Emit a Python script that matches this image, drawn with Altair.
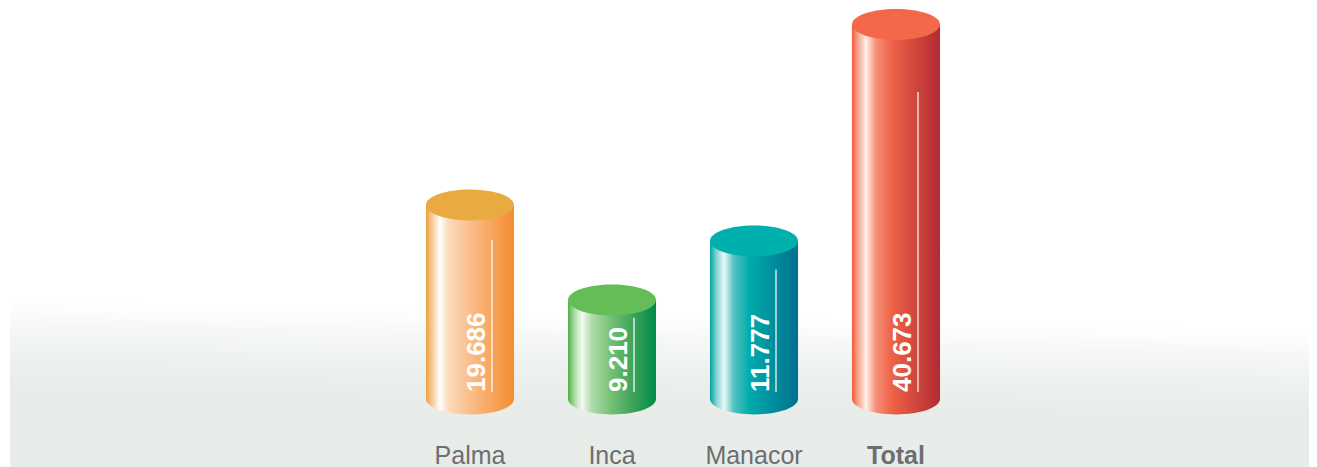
import altair as alt
import pandas as pd

# ---- data ----
categories = ["Palma", "Inca", "Manacor", "Total"]
values = [19686, 9210, 11777, 40673]
value_labels = ["19.686", "9.210", "11.777", "40.673"]
# height of each cylinder as drawn in the picture (same units as the values)
drawn_heights = [21070, 10750, 17160, 40673]

df = pd.DataFrame({
    "cat": categories,
    "value": values,
    "label": value_labels,
    "h": drawn_heights,
})

# ---- styles ----
FONT = "Liberation Sans, Arial, sans-serif"
ELLIPSE = ("M -1 0 C -1 -0.1933 -0.5523 -0.35 0 -0.35 "
           "C 0.5523 -0.35 1 -0.1933 1 0 "
           "C 1 0.1933 0.5523 0.35 0 0.35 "
           "C -0.5523 0.35 -1 0.1933 -1 0 Z")

styles = {
    "Palma": dict(top="#E9AA42", stops=[
        (0.0, "#E9A23C"), (0.06, "#F3C58A"), (0.16, "#FFFFFF"), (0.25, "#FCDCBE"),
        (0.5, "#FABD8A"), (1.0, "#F58C30")]),
    "Inca": dict(top="#63BE58", stops=[
        (0.0, "#4FAF48"), (0.07, "#A8D9A0"), (0.16, "#F4FAF2"), (0.27, "#B0DBAA"),
        (0.5, "#72BE72"), (0.75, "#3AA25A"), (1.0, "#008A48")]),
    "Manacor": dict(top="#00B0AC", stops=[
        (0.0, "#00A2A6"), (0.07, "#7FD0D0"), (0.16, "#EAF8F8"), (0.27, "#55C1C1"),
        (0.45, "#00ABAB"), (1.0, "#00708F")]),
    "Total": dict(top="#F26848", stops=[
        (0.0, "#EE5A3E"), (0.07, "#F8A68E"), (0.16, "#FFF0EA"), (0.27, "#F5907A"),
        (0.45, "#EE6246"), (1.0, "#B22A33")]),
}


def hgrad(stops):
    return alt.LinearGradient(
        gradient="linear", x1=0, y1=0, x2=1, y2=0,
        stops=[alt.GradientStop(offset=o, color=c) for o, c in stops])


X = alt.X(
    "cat:N",
    scale=alt.Scale(domain=categories, range=[391, 959], paddingInner=0.38, paddingOuter=0.19),
    axis=alt.Axis(
        title=None, domain=False, ticks=False, tickSize=0, grid=False, zindex=2,
        labelAngle=0, labelFont=FONT, labelFontSize=25, labelColor="#6D6E71",
        labelBaseline="alphabetic", labelPadding=64,
        labelFontWeight={"condition": {"test": "datum.value === 'Total'", "value": "bold"},
                         "value": "normal"},
    ),
)
YSCALE = alt.Scale(domain=[0, 42465])

base = alt.Chart(df).transform_calculate(zero="0", hline="datum.h * 0.82")

# background band
bg = alt.Chart(pd.DataFrame({"a": [0]})).mark_rect(
    fill=alt.LinearGradient(
        gradient="linear", x1=0.17, y1=0, x2=0, y2=1,
        stops=[alt.GradientStop(offset=0.0, color="#FFFFFF"),
               alt.GradientStop(offset=0.08, color="#FFFFFF"),
               alt.GradientStop(offset=0.22, color="#F6F8F6"),
               alt.GradientStop(offset=0.38, color="#EEF2EF"),
               alt.GradientStop(offset=0.55, color="#E8EDE9"),
               alt.GradientStop(offset=1.0, color="#E7ECE8")]),
).encode(x=alt.value(2), x2=alt.value(1301), y=alt.value(282), y2=alt.value(459))

layers = [bg]
for c in categories:
    st = styles[c]
    g = hgrad(st["stops"])
    sub = base.transform_filter(alt.datum.cat == c)
    bottom = sub.mark_point(shape=ELLIPSE, size=7744, filled=True, fill=g,
                            opacity=1, strokeWidth=0).encode(
        x=X, y=alt.Y("zero:Q", scale=YSCALE, axis=None))
    body = sub.mark_bar(fill=g, strokeWidth=0).encode(
        x=X, y=alt.Y("h:Q", scale=YSCALE, axis=None))
    top = sub.mark_point(shape=ELLIPSE, size=7744, filled=True, fill=st["top"],
                         opacity=1, strokeWidth=0).encode(
        x=X, y=alt.Y("h:Q", scale=YSCALE, axis=None))
    line = sub.mark_rule(color="#FFFFFF", strokeWidth=1.2, xOffset=22,
                         yOffset=0, y2Offset=-7).encode(
        x=X, y=alt.Y("hline:Q", scale=YSCALE, axis=None), y2="zero:Q")
    txt = sub.mark_text(angle=270, align="left", baseline="alphabetic",
                        font=FONT, fontSize=26, fontWeight="bold", color="#FFFFFF",
                        xOffset=15, yOffset=-7).encode(
        x=X, y=alt.Y("zero:Q", scale=YSCALE, axis=None), text="label:N")
    layers += [bottom, body, top, line, txt]

chart = alt.layer(*layers).properties(
    width=1301, height=391,
    padding={"left": 0, "top": 0, "right": 0, "bottom": 68},
    autosize=alt.AutoSizeParams(type="none"),
).configure_view(stroke=None)

chart.save("out.html", embed_options={"renderer": "svg", "actions": False})
